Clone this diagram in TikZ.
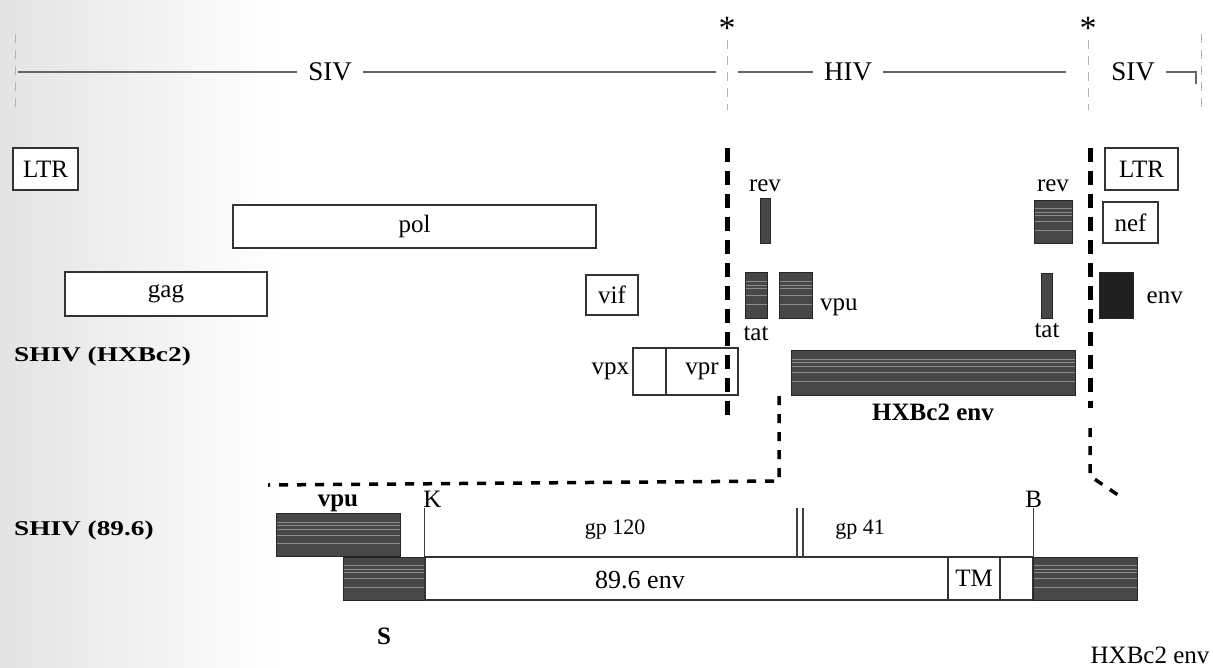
\documentclass[tikz,border=0pt]{standalone}
\usepackage{fontspec}
\setmainfont{Liberation Serif}
\newfontfamily\strainfont[FakeStretch=1.3]{Liberation Serif}
\usetikzlibrary{positioning,calc}

\begin{document}
\begin{tikzpicture}[x=1pt, y=-1pt,
    gene/.style={draw=black!80, line width=1.4pt, fill=white, inner sep=0pt, font=\fontsize{25}{25}\selectfont},
    dark/.style={draw=black!85, fill=black!72, line width=1pt, inner sep=0pt},
    streaked/.style={path picture={\foreach \f in {0.2,0.28,0.36,0.5,0.7} \draw[black!45, line width=0.6pt] ($(path picture bounding box.north west)!\f!(path picture bounding box.south west)$) -- ($(path picture bounding box.north east)!\f!(path picture bounding box.south east)$);}},
    label/.style={font=\fontsize{25}{25}\selectfont, inner sep=1pt},
    boldlabel/.style={font=\fontsize{25}{25}\selectfont\bfseries, inner sep=1pt},
    strain/.style={font=\fontsize{21}{21}\strainfont\bfseries, inner sep=0pt},
    region/.style={font=\fontsize{27}{27}\selectfont, inner xsep=11pt, inner ysep=1pt},
    cut/.style={line width=5pt, dash pattern=on 14pt off 9pt},
    link/.style={line width=3.5pt, dash pattern=on 9pt off 9pt},
    ruler/.style={draw=black!60, line width=1.8pt},
    tick/.style={draw=black!30, line width=1pt, dash pattern=on 9pt off 7pt},
    site/.style={draw=black!75, line width=1.2pt}]

    \shade[left color=black!11, right color=white] (0,0) rectangle (280,667);
    \useasboundingbox (0,0) rectangle (1213,667);

    % ruler
    \node[region] (SIVl) at (330,72) {SIV};
    \node[region] (HIV) at (848,72) {HIV};
    \node[region] (SIVr) at (1133,72) {SIV};
    \node[label, font=\fontsize{34}{34}\selectfont] (starA) at (727,28) {*};
    \node[label, font=\fontsize{34}{34}\selectfont] (starB) at (1088,28) {*};
    \coordinate (r0) at (18,72);
    \coordinate (r1) at (716,72);
    \coordinate (r2) at (738,72);
    \coordinate (r3) at (1066,72);
    \coordinate (r4) at (1196,72);
    \coordinate (r5) at (1196,84);
    \draw[ruler] (r0) -- (SIVl.west);
    \draw[ruler] (SIVl.east) -- (r1);
    \draw[ruler] (r2) -- (HIV.west);
    \draw[ruler] (HIV.east) -- (r3);
    \draw[ruler] (SIVr.east) -- (r4) -- (r5);
    \draw[tick] (15,34) -- (15,112);
    \draw[tick] (starA.south) -- (727,110);
    \draw[tick] (starB.south) -- (1088,110);
    \draw[tick] (1201,34) -- (1201,112);

    % SHIV (HXBc2)
    \node[gene, minimum width=65pt, minimum height=42pt] (LTRl) at (45.5,169) {LTR};
    \node[gene, minimum width=73pt, minimum height=42pt] (LTRr) at (1141.5,169) {LTR};
    \node[gene, minimum width=363pt, minimum height=43pt] (pol) at (414.5,226.5) {pol};
    \node[dark, minimum width=10pt, minimum height=45pt] (revL) at (765,220.5) {};
    \node[label, above=5pt of revL] {rev};
    \node[dark, streaked, minimum width=38pt, minimum height=43pt] (revR) at (1053,221.5) {};
    \node[label, above=7pt of revR] {rev};
    \node[gene, minimum width=55pt, minimum height=41pt] (nef) at (1130.5,222.5) {nef};
    \node[gene, minimum width=202pt, minimum height=44pt] (gag) at (166,294) {gag};
    \node[gene, minimum width=52pt, minimum height=40pt] (vif) at (612,295) {vif};
    \node[dark, streaked, minimum width=22pt, minimum height=46pt] (tatL) at (756,295) {};
    \node[label, below=7pt of tatL] {tat};
    \node[dark, streaked, minimum width=33pt, minimum height=46pt] (vpuT) at (796,295) {};
    \node[label, right=6pt of vpuT, yshift=-12pt] {vpu};
    \node[dark, minimum width=11pt, minimum height=45pt] (tatR) at (1047,295.5) {};
    \node[label, below=4pt of tatR] {tat};
    \node[dark, fill=black!88, minimum width=34pt, minimum height=46pt] (envT) at (1116,295) {};
    \node[label, right=12pt of envT, yshift=-3pt] {env};
    \node[strain, anchor=west] (shivA) at (14,356) {SHIV (HXBc2)};
    \node[gene, minimum width=33pt, minimum height=47pt] (vpx) at (649.5,371.5) {};
    \node[gene, minimum width=72pt, minimum height=47pt, right=-1.4pt of vpx] (vpr) {vpr};
    \node[label, left=2pt of vpx] {vpx};
    \node[dark, streaked, minimum width=284pt, minimum height=45pt] (hxb) at (933,372.5) {};
    \node[boldlabel, below=7pt of hxb] {HXBc2 env};

    % cut sites
    \coordinate (cutAt) at (727,148);
    \coordinate (cutAb) at (727,415);
    \coordinate (cutBt) at (1090,148);
    \coordinate (cutBb) at (1090,408);
    \draw[cut] (cutAt) -- (cutAb);
    \draw[cut] (cutBt) -- (cutBb);
    \coordinate (linkA0) at (779,396);
    \coordinate (linkA1) at (779,481);
    \coordinate (linkA2) at (268,485);
    \draw[link] (linkA0) -- (linkA1) -- (linkA2);
    \coordinate (linkB0) at (1090,428);
    \coordinate (linkB1) at (1090,476);
    \coordinate (linkB2) at (1118,495);
    \draw[link] (linkB0) -- (linkB1) -- (linkB2);

    % SHIV (89.6)
    \node[strain, anchor=west] (shivB) at (14,530) {SHIV (89.6)};
    \node[dark, streaked, minimum width=124pt, minimum height=43pt] (vpuB) at (338,535) {};
    \node[boldlabel, above=0pt of vpuB] {vpu};
    \node[dark, streaked, minimum width=82pt, minimum height=43pt] (sB) at (384,578.5) {};
    \node[boldlabel, below=26pt of sB] {S};
    \node[gene, minimum width=608pt, minimum height=43pt] (envM) at (729,578.5) {};
    \node[label, font=\fontsize{26}{26}\selectfont] (envlab) at (640,580) {89.6 env};
    \node[gene, minimum width=52pt, minimum height=43pt] (TM) at (974,578.5) {TM};
    \node[dark, streaked, minimum width=104pt, minimum height=43pt] (hxbB) at (1085,578.5) {};
    \node[label] (hxblab) at (1150,655) {HXBc2 env};
    \coordinate[above=48pt of envM.north west] (Ktop);
    \coordinate[above=48pt of envM.north east] (Btop);
    \draw[site] (envM.north west) -- (Ktop);
    \draw[site] (envM.north east) -- (Btop);
    \node[label, above=0pt of Ktop, xshift=8pt] {K};
    \node[label, above=0pt of Btop] {B};
    \draw[site] (797,557) -- (797,508);
    \draw[site] (803,557) -- (803,508);
    \node[label, font=\fontsize{22}{22}\selectfont] (gp120) at (615,530) {gp 120};
    \node[label, font=\fontsize{22}{22}\selectfont] (gp41) at (860,530) {gp 41};
\end{tikzpicture}
\end{document}
